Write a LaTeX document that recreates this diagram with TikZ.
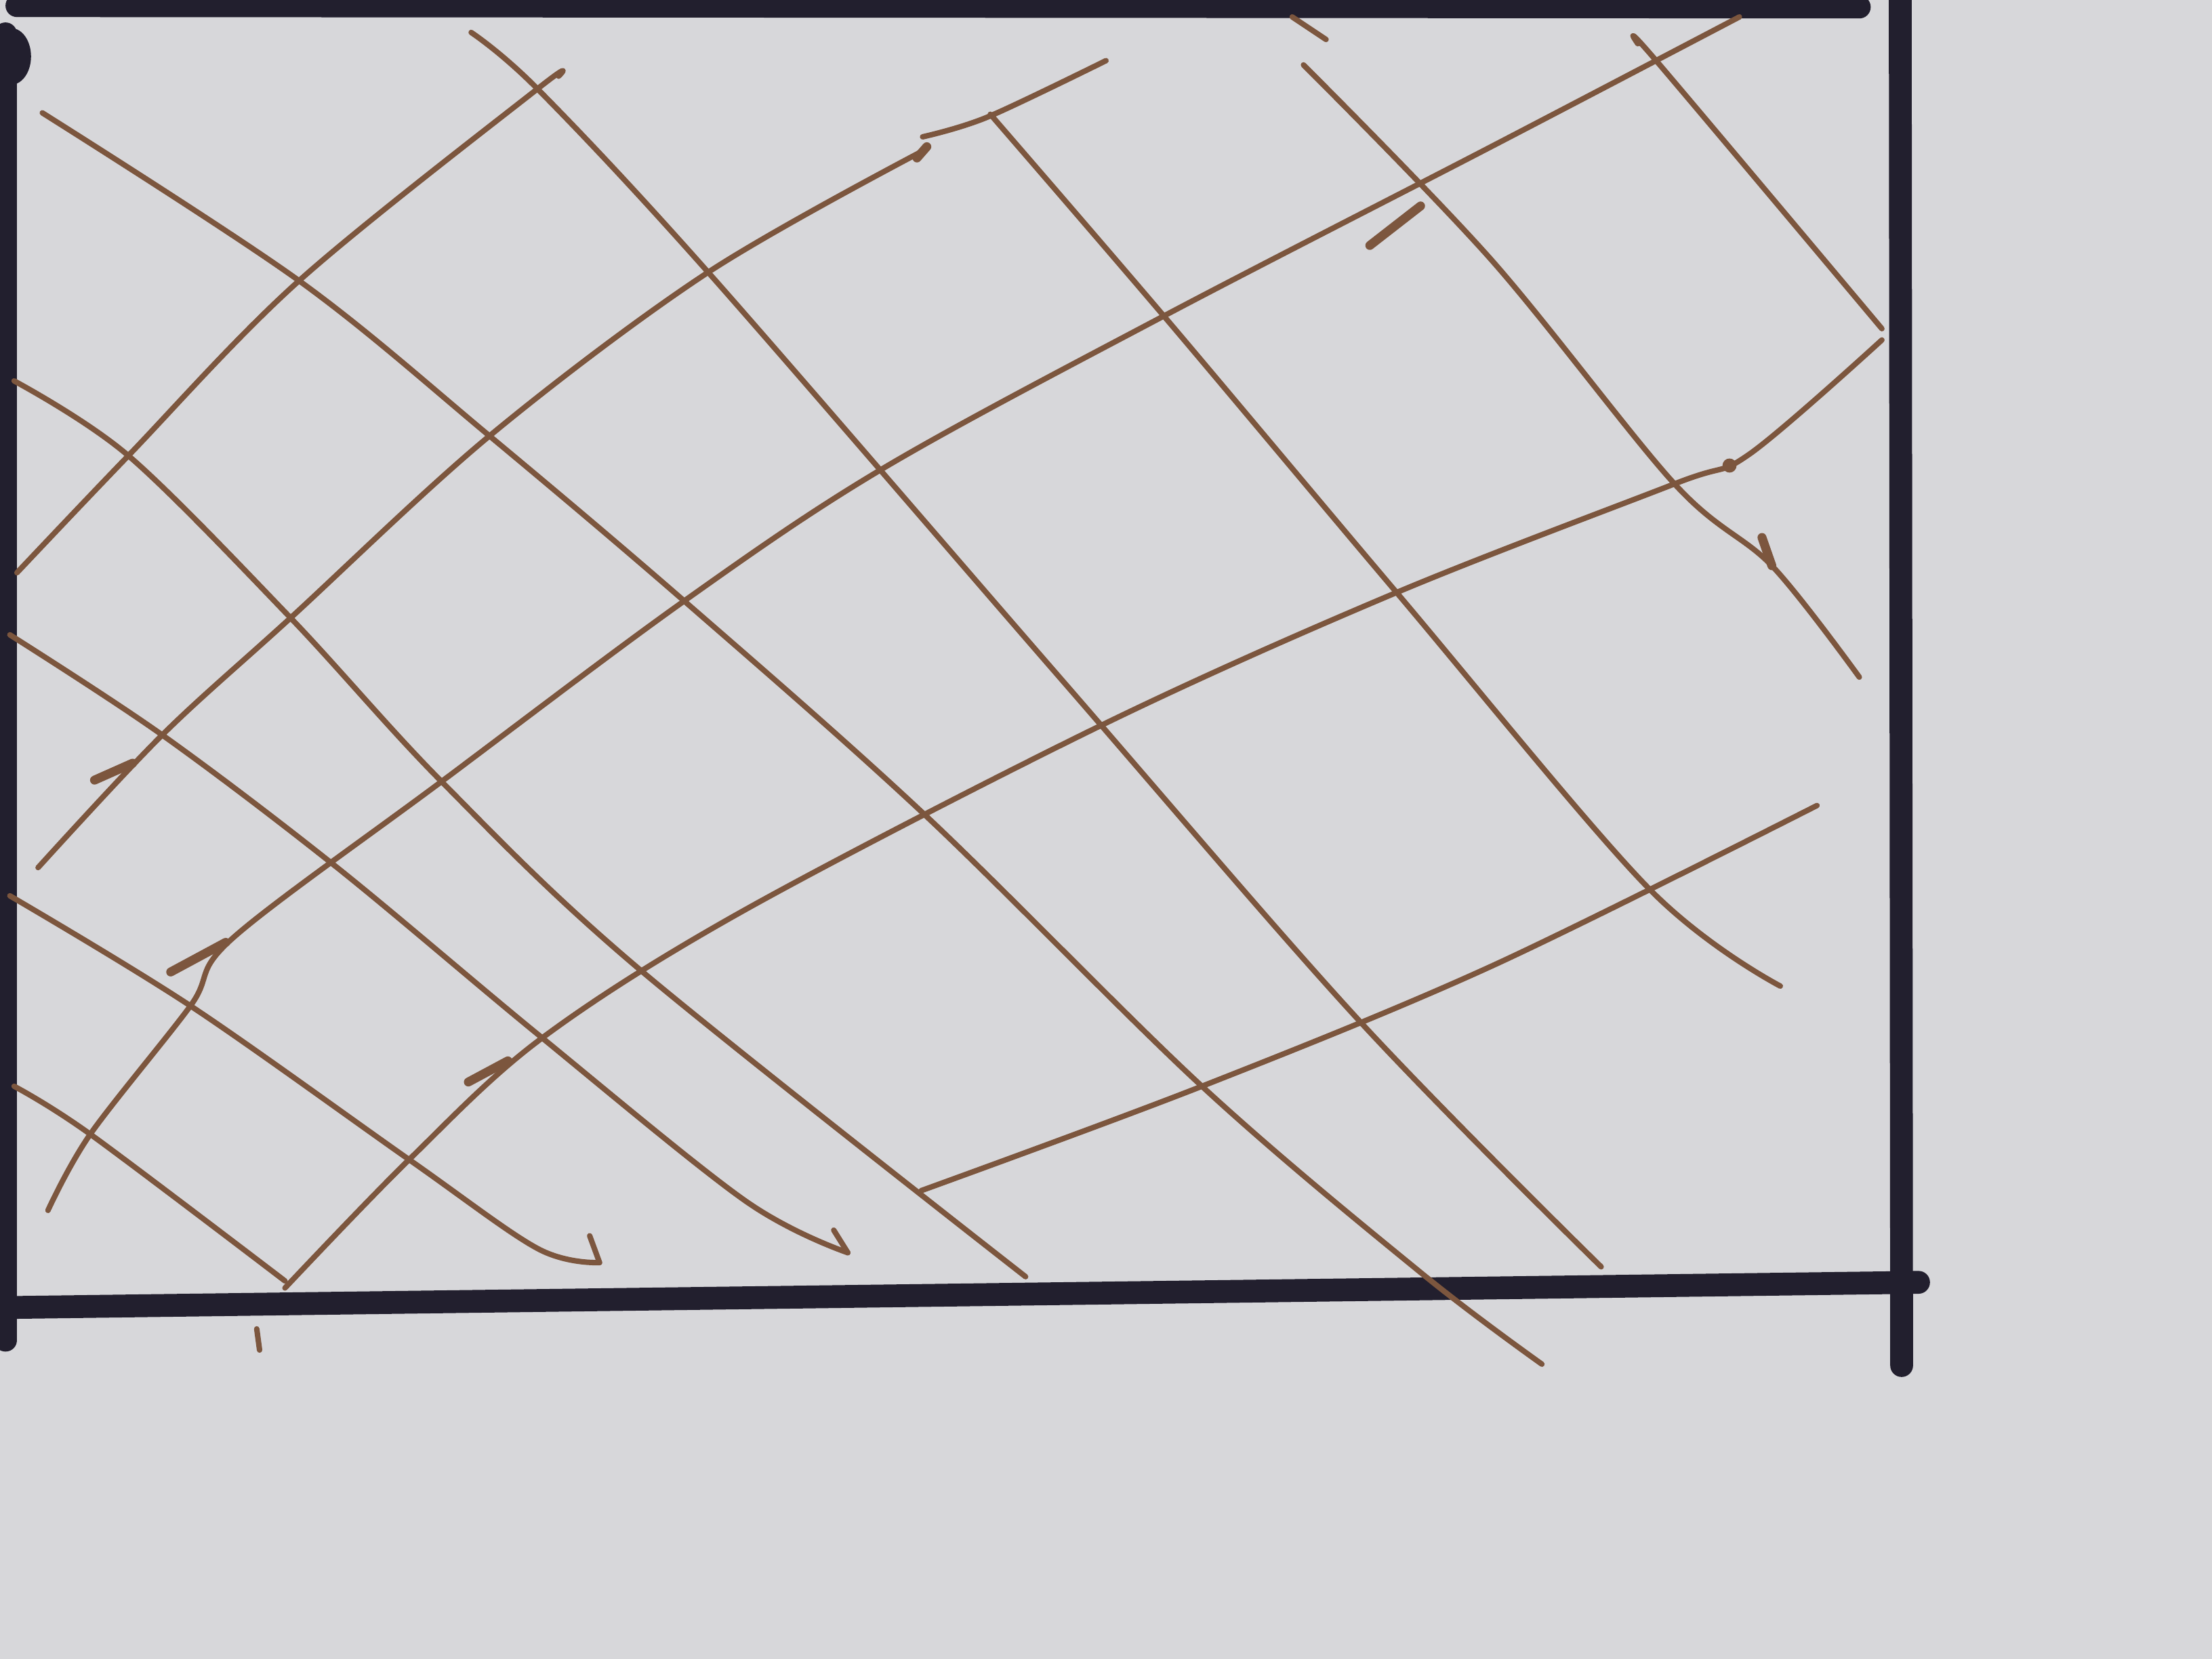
\documentclass[tikz,border=0pt]{standalone}
\definecolor{ink}{RGB}{34,31,46}
\definecolor{sepia}{RGB}{124,86,62}
\definecolor{paper}{RGB}{215,215,218}
\begin{document}
\begin{tikzpicture}[x=0.01cm, y=-0.01cm, line join=round, line cap=round,
	frame/.style={ink, line width=4.6pt},
	hatch/.style={sepia, line width=1.1pt},
	hook/.style={sepia, line width=1.8pt}]
	\fill[paper] (0,0) rectangle (1568,1176);
	\useasboundingbox (0,0) rectangle (1568,1176);
	% black frame
	\draw[frame] (12,4) -- (1318,5);
	\draw[frame] (1347,-5) -- (1348,968);
	\draw[frame] (-5,927) -- (1360,909);
	\draw[frame] (4,24) -- (4,950);
	\fill[ink] (8,40) ellipse (14 and 20);
	% lines going down to the right
	\draw[hatch] plot[smooth, tension=.55] coordinates {(702,81) (825,224) (990,420) (1168,629) (1262,699)};
	\draw[hatch] plot[smooth, tension=.55] coordinates {(334,23) (381,63) (502,193) (751,480) (963,723) (1135,898)};
	\draw[hatch] plot[smooth, tension=.55] coordinates {(30,80) (212,199) (347,309) (485,426) (656,578) (852,770) (1007,902) (1093,967)};
	\draw[hatch] plot[smooth, tension=.55] coordinates {(10,270) (91,323) (206,438) (313,554) (452,686) (727,905)};
	\draw[hatch] plot[smooth, tension=.55] coordinates {(7,450) (115,521) (239,615) (381,733) (528,851) (601,888)};
	\draw[hatch] plot[smooth, tension=.55] coordinates {(7,635) (135,713) (290,822) (381,885) (425,895)};
	\draw[hatch] plot[smooth, tension=.55] coordinates {(10,770) (64,804) (202,908)};
	\draw[hatch] plot[smooth, tension=.55] coordinates {(924,46) (1057,184) (1187,343) (1256,401) (1318,480)};
	\draw[hatch] plot[smooth, tension=.55] coordinates {(1161,31) (1174,43) (1334,233)};
	% lines going up to the right
	\draw[hatch] plot[smooth, tension=.55] coordinates {(12,406) (91,323) (212,199) (381,63) (396,54)};
	\draw[hatch] plot[smooth, tension=.55] coordinates {(27,615) (115,521) (206,438) (347,309) (502,193) (656,106)};
	\draw[hatch] plot[smooth, tension=.55] coordinates {(654,97) (700,83) (784,43)};
	\draw[hatch] plot[smooth, tension=.55] coordinates {(34,858) (64,804) (135,713) (165,665) (313,554) (485,426) (626,332) (825,224) (1057,104) (1233,12)};
	\draw[hatch] plot[smooth, tension=.55] coordinates {(202,913) (290,822) (384,736) (528,645) (781,514) (990,420) (1187,343) (1240,322) (1334,241)};
	\draw[hatch] plot[smooth, tension=.55] coordinates {(653,844) (852,770) (1057,685) (1288,571)};
	% pen hooks and ticks
	\draw[hook] (67,553) -- (94,541);
	\draw[hook] (121,689) -- (160,668);
	\draw[hook] (332,767) -- (360,752);
	\draw[hook] (650,112) -- (657,104);
	\draw[hook] (971,174) -- (1007,146);
	\fill[sepia] (1226,330) circle (5);
	\draw[hook] (1249,381) -- (1256,401);
	\draw[hatch] (425,895) -- (418,876);
	\draw[hatch] (601,888) -- (591,872);
	\draw[hatch] (182,942) -- (184,957);
	\draw[hatch] (916,12) -- (940,28);
\end{tikzpicture}
\end{document}
